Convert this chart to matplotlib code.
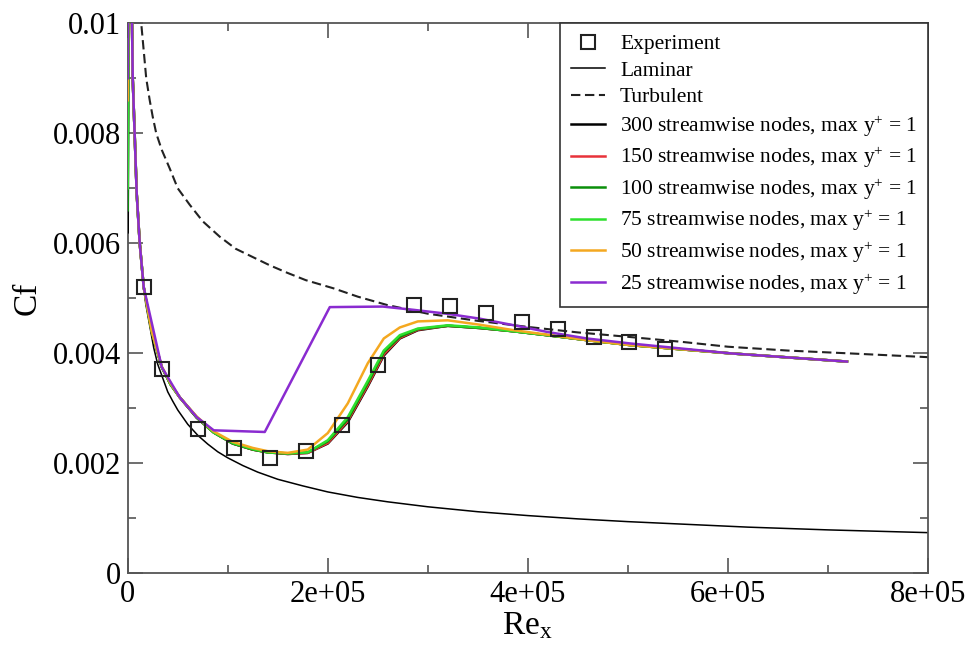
import matplotlib
matplotlib.use("Agg")
import matplotlib.pyplot as plt
from matplotlib.ticker import MultipleLocator

# ── data ──────────────────────────────────────────────────────────────────────
EXP_RE = [16e3, 34e3, 70e3, 106e3, 142e3, 178e3, 214e3, 250e3, 286e3, 322e3,
          358e3, 394e3, 430e3, 466e3, 501e3, 537e3]
EXP_CF = [0.0052, 0.00372, 0.00263, 0.00227, 0.00209, 0.00222, 0.00269, 0.00378,
          0.00487, 0.00486, 0.00473, 0.00457, 0.00444, 0.0043, 0.00421, 0.00408]

LAM_RE = [4.4e3, 5e3, 6e3, 7e3, 8e3, 9e3, 10e3, 12e3, 14e3, 16e3, 18e3, 20e3, 23e3,
          26e3, 30e3, 35e3, 40e3, 45e3, 50e3, 60e3, 70e3, 80e3, 90e3, 100e3, 115e3,
          130e3, 150e3, 175e3, 200e3, 230e3, 260e3, 300e3, 350e3, 400e3, 450e3,
          500e3, 560e3, 620e3, 700e3, 800e3]
LAM_CF = [0.0100, 0.0094, 0.0086, 0.0079, 0.0074, 0.0070, 0.0066, 0.0061, 0.0056,
          0.0052, 0.0049, 0.0047, 0.0044, 0.0041, 0.0038, 0.00355, 0.0033, 0.00313,
          0.00297, 0.00271, 0.00251, 0.00235, 0.00221, 0.0021, 0.00196, 0.00184,
          0.00171, 0.00159, 0.00148, 0.00138, 0.0013, 0.00121, 0.00112, 0.00105,
          0.00099, 0.00094, 0.00089, 0.00084, 0.00079, 0.00074]

TURB_RE = [12.5e3, 13.5e3, 16e3, 18.5e3, 22e3, 25e3, 28.5e3, 34e3, 42e3, 50e3, 62e3,
           75e3, 92e3, 108e3, 125e3, 142e3, 160e3, 178e3, 206e3, 230e3, 259e3,
           300e3, 350e3, 400e3, 450e3, 500e3, 553e3, 600e3, 660e3, 720e3, 800e3]
TURB_CF = [0.0102, 0.0100, 0.0095, 0.0090, 0.0086, 0.0083, 0.0080, 0.0077, 0.00736,
           0.0070, 0.0067, 0.0064, 0.00612, 0.0059, 0.00575, 0.0056, 0.00546,
           0.00533, 0.00518, 0.00503, 0.00488, 0.00472, 0.00459, 0.00448, 0.00438,
           0.0043, 0.00421, 0.00412, 0.00405, 0.0040, 0.00393]

N300_RE = [0, 1.5e3, 5e3, 9e3, 12e3, 16e3, 24e3, 34e3, 43e3, 52e3, 69e3, 86e3, 105e3,
           125e3, 140e3, 160e3, 180e3, 200e3, 220e3, 240e3, 256e3, 272e3, 290e3,
           320e3, 352e3, 386e3, 419e3, 459e3, 502e3, 602e3, 719e3]
N300_CF = [0.0062, 0.014, 0.009, 0.0069, 0.006, 0.0052, 0.0044, 0.00375, 0.00343,
           0.0032, 0.00283, 0.00256, 0.00236, 0.00225, 0.0022, 0.00217, 0.00219,
           0.00236, 0.00275, 0.0034, 0.00396, 0.00427, 0.00442, 0.0045, 0.00446,
           0.0044, 0.00433, 0.00424, 0.00415, 0.0040, 0.00385]

N150_RE = [0, 1.5e3, 5e3, 9e3, 12e3, 16e3, 24e3, 34e3, 43e3, 52e3, 69e3, 86e3, 105e3,
           125e3, 140e3, 160e3, 180e3, 200e3, 220e3, 240e3, 256e3, 272e3, 290e3,
           320e3, 352e3, 386e3, 419e3, 459e3, 502e3, 602e3, 719e3]
N150_CF = [0.0081, 0.014, 0.009, 0.0069, 0.006, 0.0052, 0.0044, 0.00375, 0.00343,
           0.0032, 0.00283, 0.00256, 0.00236, 0.00225, 0.0022, 0.00217, 0.00219,
           0.00237, 0.00277, 0.00342, 0.00398, 0.00428, 0.00443, 0.0045, 0.00446,
           0.0044, 0.00433, 0.00424, 0.00415, 0.0040, 0.00385]

N100_RE = [0, 1.5e3, 5e3, 9e3, 12e3, 16e3, 24e3, 34e3, 43e3, 52e3, 69e3, 86e3, 105e3,
           125e3, 140e3, 160e3, 180e3, 200e3, 220e3, 240e3, 256e3, 272e3, 290e3,
           320e3, 352e3, 386e3, 419e3, 459e3, 502e3, 602e3, 719e3]
N100_CF = [0.0066, 0.014, 0.009, 0.0069, 0.006, 0.0052, 0.0044, 0.00375, 0.00343,
           0.0032, 0.00283, 0.00256, 0.00236, 0.00225, 0.0022, 0.00218, 0.0022,
           0.0024, 0.0028, 0.00346, 0.00402, 0.0043, 0.00444, 0.0045, 0.00446,
           0.0044, 0.00433, 0.00424, 0.00415, 0.0040, 0.00385]

N75_RE = [0, 1.5e3, 5e3, 9e3, 12e3, 16e3, 24e3, 34e3, 43e3, 52e3, 69e3, 86e3, 105e3,
          125e3, 140e3, 160e3, 180e3, 200e3, 220e3, 240e3, 256e3, 272e3, 290e3,
          320e3, 352e3, 386e3, 419e3, 459e3, 502e3, 602e3, 719e3]
N75_CF = [0.0070, 0.014, 0.009, 0.0069, 0.006, 0.0052, 0.0044, 0.00375, 0.00343,
          0.0032, 0.00284, 0.00256, 0.00237, 0.00226, 0.0022, 0.00218, 0.0022,
          0.00242, 0.00284, 0.0035, 0.00405, 0.00433, 0.00445, 0.00451, 0.00447,
          0.0044, 0.00433, 0.00424, 0.00415, 0.0040, 0.00385]

N50_RE = [0, 1.5e3, 5e3, 9e3, 12e3, 16e3, 24e3, 34e3, 43e3, 52e3, 69e3, 86e3, 105e3,
          125e3, 140e3, 160e3, 180e3, 200e3, 220e3, 240e3, 256e3, 272e3, 290e3,
          320e3, 352e3, 386e3, 419e3, 459e3, 502e3, 602e3, 719e3]
N50_CF = [0.0086, 0.014, 0.009, 0.0069, 0.006, 0.0052, 0.0044, 0.00376, 0.00345,
          0.0032, 0.00285, 0.00258, 0.00239, 0.00228, 0.00222, 0.00219, 0.00225,
          0.00255, 0.00309, 0.00382, 0.00427, 0.00447, 0.00458, 0.0046, 0.00452,
          0.00442, 0.00434, 0.00424, 0.00415, 0.0040, 0.00385]

N25_RE = [0, 1.5e3, 5e3, 9e3, 12e3, 16e3, 34e3, 52e3, 69e3, 86e3, 137e3, 202e3,
          255e3, 286e3, 319e3, 352e3, 386e3, 419e3, 459e3, 502e3, 602e3, 719e3]
N25_CF = [0.0090, 0.014, 0.009, 0.0069, 0.006, 0.0052, 0.00375, 0.0032, 0.00284,
          0.0026, 0.00257, 0.00484, 0.00485, 0.00479, 0.00472, 0.00463, 0.00451,
          0.00439, 0.00427, 0.00418, 0.0040, 0.00385]

X_TICKS = [0, 2e5, 4e5, 6e5, 8e5]
X_LABELS = ["0", "2e+05", "4e+05", "6e+05", "8e+05"]
Y_TICKS = [0, 0.002, 0.004, 0.006, 0.008, 0.01]
Y_LABELS = ["0", "0.002", "0.004", "0.006", "0.008", "0.01"]

SIMS = [
    ("300", N300_RE, N300_CF, "black"),
    ("150", N150_RE, N150_CF, "#e8323a"),
    ("100", N100_RE, N100_CF, "#0a8f0a"),
    ("75",  N75_RE,  N75_CF,  "#2ee02e"),
    ("50",  N50_RE,  N50_CF,  "#f4a820"),
    ("25",  N25_RE,  N25_CF,  "#8a2bd0"),
]

# ── style ─────────────────────────────────────────────────────────────────────
plt.rcParams["font.family"] = ["Liberation Serif", "DejaVu Serif"]
plt.rcParams["mathtext.fontset"] = "custom"
plt.rcParams["mathtext.rm"] = "Liberation Serif"
plt.rcParams["mathtext.it"] = "Liberation Serif"

fig = plt.figure(figsize=(9.72, 6.45), dpi=100)
ax = fig.add_axes([0.1314, 0.1111, 0.8233, 0.8528])

ax.plot(LAM_RE, LAM_CF, color="black", lw=1.1, label="Laminar", zorder=2)
ax.plot(TURB_RE, TURB_CF, color="#222222", lw=1.5, dashes=(4.5, 2.2),
        label="Turbulent", zorder=2)

for n, re, cf, col in SIMS:
    ax.plot(re, cf, color=col, lw=1.8, zorder=3,
            label=f"{n} streamwise nodes, max $\\mathrm{{y}}^{{+}}$ = 1")

ax.plot(EXP_RE, EXP_CF, ls="none", marker="s", ms=9.5, mfc="none", mec="#222222",
        mew=1.5, label="Experiment", zorder=5)

ax.set_xlim(0, 8e5)
ax.set_ylim(0, 0.01)
ax.set_xticks(X_TICKS)
ax.set_xticklabels(X_LABELS)
ax.set_yticks(Y_TICKS)
ax.set_yticklabels(Y_LABELS)
ax.xaxis.set_minor_locator(MultipleLocator(1e5))
ax.yaxis.set_minor_locator(MultipleLocator(0.001))
ax.tick_params(which="both", direction="in", top=True, right=True,
               labelsize=22, pad=5, color="#555555", width=1.2)
ax.tick_params(which="major", length=11)
ax.tick_params(which="minor", length=6)
for sp in ax.spines.values():
    sp.set_color("#555555")
    sp.set_linewidth(1.3)

ax.set_xlabel("Re$_\\mathrm{x}$", fontsize=24, labelpad=1)
ax.set_ylabel("Cf", fontsize=24, labelpad=7)

handles, labels = ax.get_legend_handles_labels()
order = [len(handles) - 1] + list(range(len(handles) - 1))
leg = ax.legend([handles[i] for i in order], [labels[i] for i in order],
                loc="upper right", borderaxespad=0, fontsize=15.5, fancybox=False,
                framealpha=1, edgecolor="#333333", handlelength=1.6,
                handletextpad=0.7, labelspacing=0.3, borderpad=0.5)
leg.get_frame().set_linewidth(1.2)
leg.set_zorder(10)

fig.savefig("out.png", dpi=100)
